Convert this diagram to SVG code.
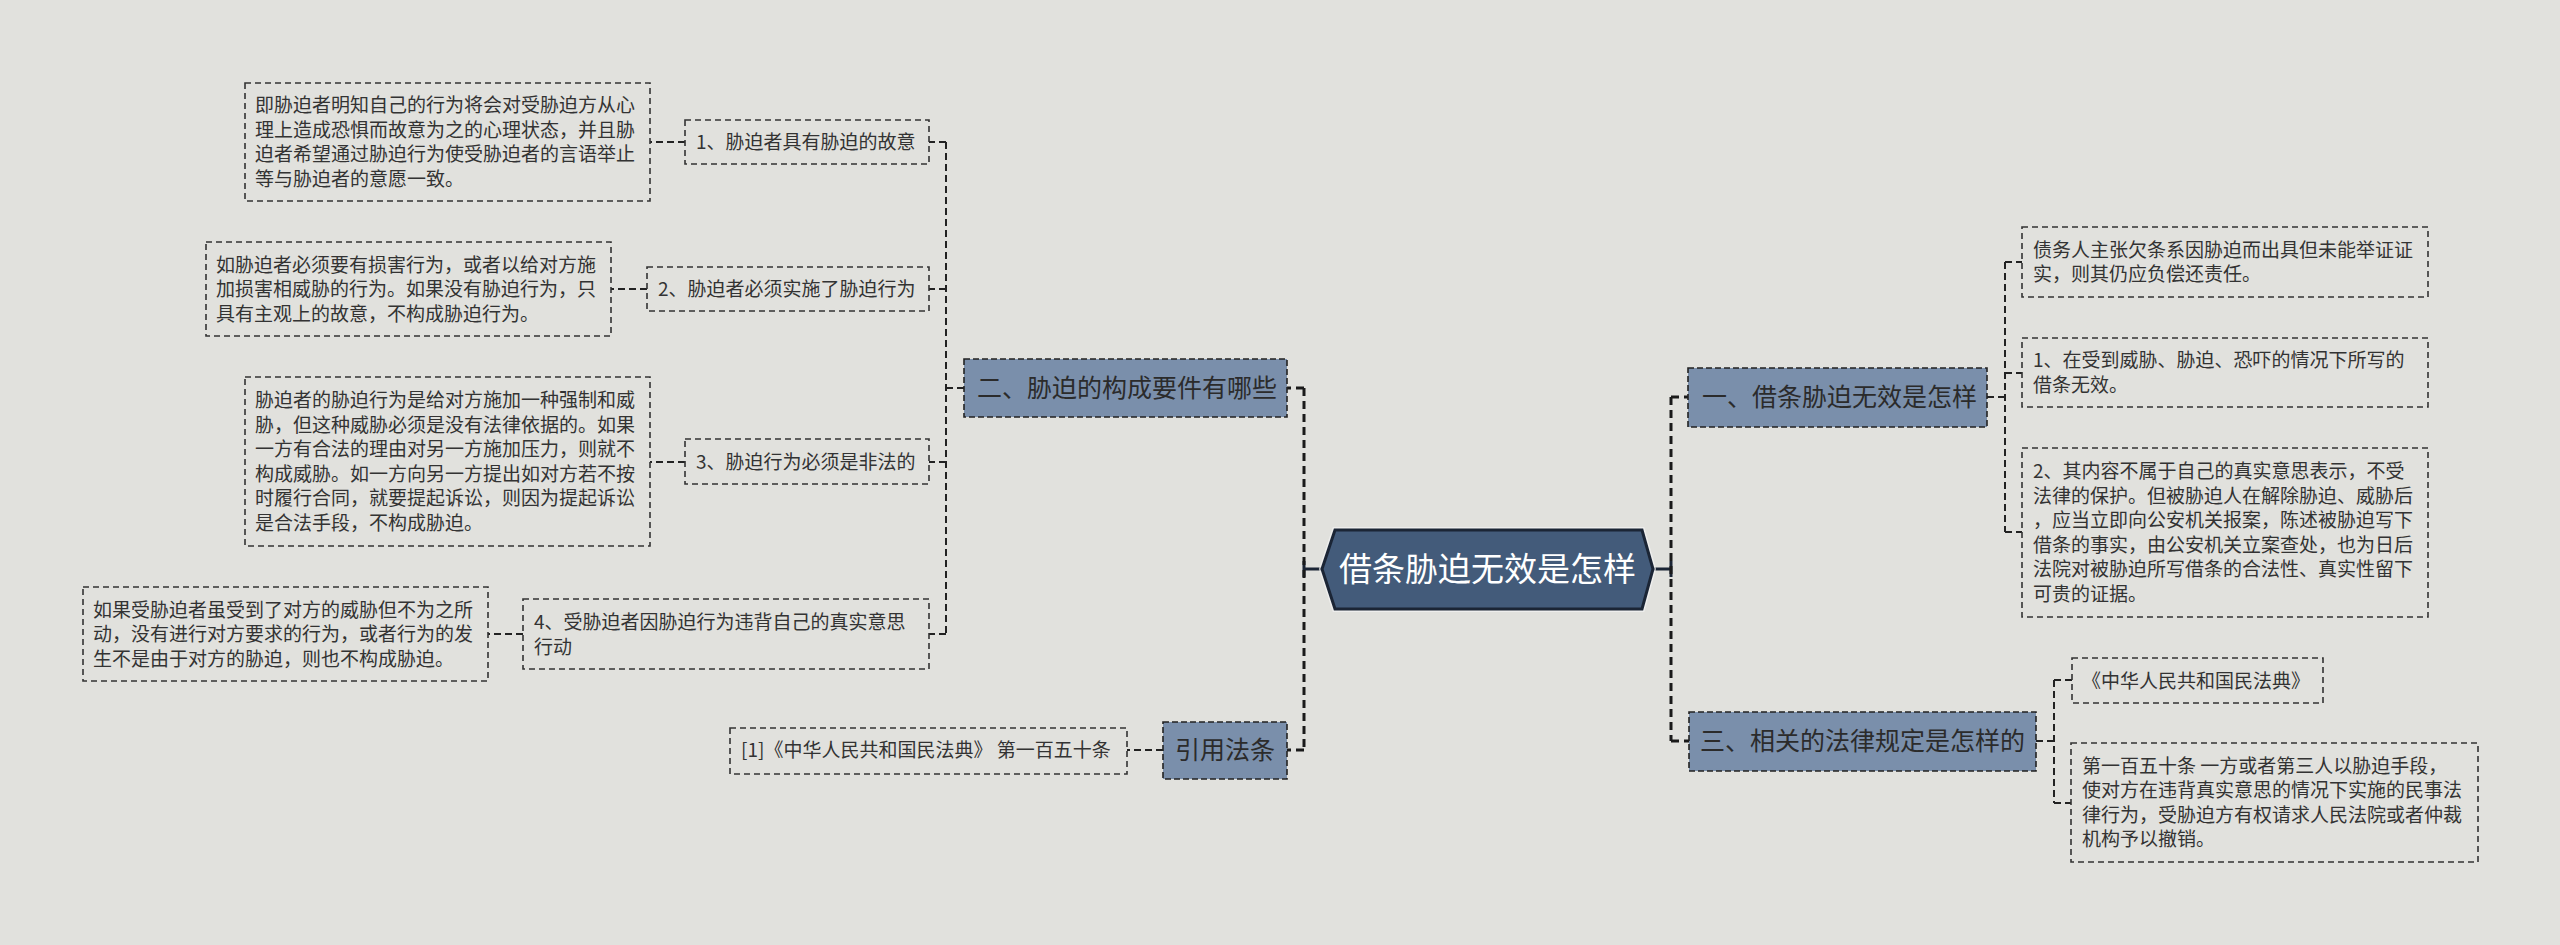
<svg xmlns="http://www.w3.org/2000/svg" width="2560" height="945" viewBox="0 0 2560 945">
<style>
.t{font-family:"Noto Sans CJK SC","Noto Sans",sans-serif;font-size:19px;fill:#333333}
.b{font-family:"Noto Sans CJK SC","Noto Sans",sans-serif;font-size:25px;fill:#2b2b2b}
.r{font-family:"Noto Sans CJK SC","Noto Sans",sans-serif;font-size:33px;fill:#ffffff}
.box{fill:none;stroke:#333333;stroke-width:1.6;stroke-dasharray:6 4}
.br{fill:#7a8fab;stroke:#222222;stroke-width:1.6;stroke-dasharray:6 3}
.c{fill:none;stroke:#222222;stroke-width:2;stroke-dasharray:7 4}
.cm{fill:none;stroke:#1a1a1a;stroke-width:3;stroke-dasharray:8 5}
.s{fill:none;stroke:#1b2535;stroke-width:3}
</style>
<rect x="0" y="0" width="2560" height="945" fill="#e1e1dd"/>

<g id="connectors">
  <!-- root to main verticals -->
  <path class="s" d="M1322 569 H1304 M1304 561 V577 M1653 569 H1671 M1671 561 V577"/>
  <path class="cm" d="M1304 388 V750 M1304 388 H1287 M1304 750 H1287"/>
  <path class="cm" d="M1671 397 V741 M1671 397 H1688 M1671 741 H1689"/>
  <!-- left branch -->
  <path class="c" d="M964 388 H946 M946 142 V634 M946 142 H929 M946 289 H929 M946 462 H929 M946 634 H929"/>
  <path class="c" d="M685 142 H650 M647 289 H611 M685 462 H650 M523 634 H488"/>
  <path class="c" d="M1163 750 H1127"/>
  <!-- right branch 一 -->
  <path class="c" d="M1987 397 H2005 M2005 262 V532 M2005 262 H2022 M2005 373 H2022 M2005 532 H2022"/>
  <!-- right branch 三 -->
  <path class="c" d="M2036 741 H2054 M2054 680 V803 M2054 680 H2072 M2054 803 H2071"/>
</g>

<g id="root">
  <polygon points="1322,569 1335,530 1642,530 1653,569 1642,609 1335,609" fill="none" stroke="#f4f4f4" stroke-width="6" stroke-opacity="0.7"/>
  <polygon points="1322,569 1335,530 1642,530 1653,569 1642,609 1335,609" fill="#435b7a" stroke="#1b2535" stroke-width="3"/>
  <text class="r" x="1487.5" y="581" text-anchor="middle">借条胁迫无效是怎样</text>
</g>

<g id="node-er">
  <rect class="br" x="964" y="359" width="323" height="58"/>
  <text class="b" x="977" y="397">二、胁迫的构成要件有哪些</text>
</g>
<g id="node-yinyong">
  <rect class="br" x="1163" y="722" width="124" height="57"/>
  <text class="b" x="1225" y="759" text-anchor="middle">引用法条</text>
</g>
<g id="node-yi">
  <rect class="br" x="1688" y="368" width="299" height="59"/>
  <text class="b" x="1702" y="406">一、借条胁迫无效是怎样</text>
</g>
<g id="node-san">
  <rect class="br" x="1689" y="712" width="347" height="59"/>
  <text class="b" x="1700" y="750">三、相关的法律规定是怎样的</text>
</g>

<g id="node-1">
  <rect class="box" x="685" y="120" width="244" height="44"/>
  <text class="t" x="696" y="149">1、胁迫者具有胁迫的故意</text>
</g>
<g id="desc-1">
  <rect class="box" x="245" y="83" width="405" height="118"/>
  <text class="t" x="255" y="112">即胁迫者明知自己的行为将会对受胁迫方从心</text>
  <text class="t" x="255" y="136.5">理上造成恐惧而故意为之的心理状态，并且胁</text>
  <text class="t" x="255" y="161">迫者希望通过胁迫行为使受胁迫者的言语举止</text>
  <text class="t" x="255" y="185.5">等与胁迫者的意愿一致。</text>
</g>

<g id="node-2">
  <rect class="box" x="647" y="267" width="282" height="44"/>
  <text class="t" x="658" y="296">2、胁迫者必须实施了胁迫行为</text>
</g>
<g id="desc-2">
  <rect class="box" x="206" y="242" width="405" height="94"/>
  <text class="t" x="216" y="271.5">如胁迫者必须要有损害行为，或者以给对方施</text>
  <text class="t" x="216" y="296">加损害相威胁的行为。如果没有胁迫行为，只</text>
  <text class="t" x="216" y="320.5">具有主观上的故意，不构成胁迫行为。</text>
</g>

<g id="node-3">
  <rect class="box" x="685" y="439" width="244" height="45"/>
  <text class="t" x="696" y="469">3、胁迫行为必须是非法的</text>
</g>
<g id="desc-3">
  <rect class="box" x="245" y="377" width="405" height="169"/>
  <text class="t" x="255" y="407.25">胁迫者的胁迫行为是给对方施加一种强制和威</text>
  <text class="t" x="255" y="431.75">胁，但这种威胁必须是没有法律依据的。如果</text>
  <text class="t" x="255" y="456.25">一方有合法的理由对另一方施加压力，则就不</text>
  <text class="t" x="255" y="480.75">构成威胁。如一方向另一方提出如对方若不按</text>
  <text class="t" x="255" y="505.25">时履行合同，就要提起诉讼，则因为提起诉讼</text>
  <text class="t" x="255" y="529.75">是合法手段，不构成胁迫。</text>
</g>

<g id="node-4">
  <rect class="box" x="523" y="599" width="406" height="70"/>
  <text class="t" x="534" y="629">4、受胁迫者因胁迫行为违背自己的真实意思</text>
  <text class="t" x="534" y="653.5">行动</text>
</g>
<g id="desc-4">
  <rect class="box" x="83" y="587" width="405" height="94"/>
  <text class="t" x="93" y="616.5">如果受胁迫者虽受到了对方的威胁但不为之所</text>
  <text class="t" x="93" y="641">动，没有进行对方要求的行为，或者行为的发</text>
  <text class="t" x="93" y="665.5">生不是由于对方的胁迫，则也不构成胁迫。</text>
</g>

<g id="citation">
  <rect class="box" x="730" y="728" width="397" height="46"/>
  <text class="t" x="741" y="757">[1]《中华人民共和国民法典》 第一百五十条</text>
</g>

<g id="box-a">
  <rect class="box" x="2022" y="227" width="406" height="70"/>
  <text class="t" x="2033" y="256.75">债务人主张欠条系因胁迫而出具但未能举证证</text>
  <text class="t" x="2033" y="281.25">实，则其仍应负偿还责任。</text>
</g>
<g id="box-b">
  <rect class="box" x="2022" y="338" width="406" height="69"/>
  <text class="t" x="2033" y="367.25">1、在受到威胁、胁迫、恐吓的情况下所写的</text>
  <text class="t" x="2033" y="391.75">借条无效。</text>
</g>
<g id="box-c">
  <rect class="box" x="2022" y="448" width="406" height="169"/>
  <text class="t" x="2033" y="478.25">2、其内容不属于自己的真实意思表示，不受</text>
  <text class="t" x="2033" y="502.75">法律的保护。但被胁迫人在解除胁迫、威胁后</text>
  <text class="t" x="2033" y="527.25">，应当立即向公安机关报案，陈述被胁迫写下</text>
  <text class="t" x="2033" y="551.75">借条的事实，由公安机关立案查处，也为日后</text>
  <text class="t" x="2033" y="576.25">法院对被胁迫所写借条的合法性、真实性留下</text>
  <text class="t" x="2033" y="600.75">可贵的证据。</text>
</g>

<g id="box-d">
  <rect class="box" x="2072" y="658" width="251" height="45"/>
  <text class="t" x="2082" y="687.5">《中华人民共和国民法典》</text>
</g>
<g id="box-e">
  <rect class="box" x="2071" y="743" width="407" height="119"/>
  <text class="t" x="2082" y="772.75">第一百五十条 一方或者第三人以胁迫手段，</text>
  <text class="t" x="2082" y="797.25">使对方在违背真实意思的情况下实施的民事法</text>
  <text class="t" x="2082" y="821.75">律行为，受胁迫方有权请求人民法院或者仲裁</text>
  <text class="t" x="2082" y="846.25">机构予以撤销。</text>
</g>
</svg>
